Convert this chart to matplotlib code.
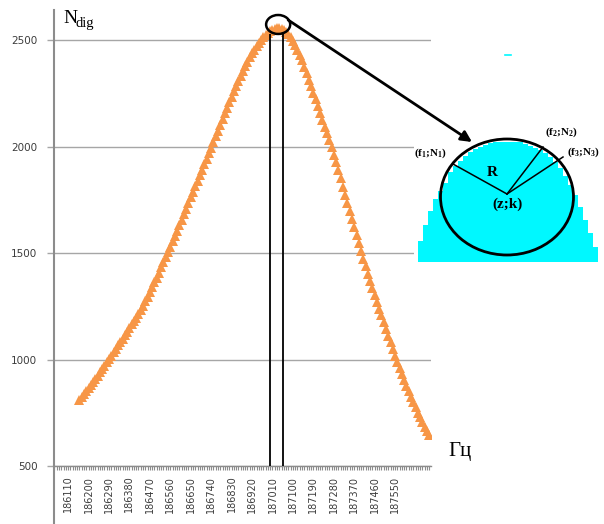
import numpy as np
import matplotlib
matplotlib.use("Agg")
import matplotlib.pyplot as plt
from matplotlib.patches import Ellipse, ConnectionPatch
from matplotlib.ticker import MultipleLocator

plt.rcParams['mathtext.fontset'] = 'custom'
plt.rcParams['mathtext.rm'] = 'Liberation Serif:bold'
plt.rcParams['mathtext.it'] = 'Liberation Serif:italic:bold'
plt.rcParams['mathtext.bf'] = 'Liberation Serif:bold'

# Frequency sweep (Hz) and digitised counts at each step
freq_start = 186160
freq_step = 10
counts = [
    812, 825, 838, 852, 866, 880, 894, 909, 924, 939,
    954, 970, 986, 1002, 1018, 1034, 1050, 1066, 1082, 1098,
    1114, 1131, 1148, 1165, 1182, 1197, 1213, 1232, 1252, 1273,
    1295, 1317, 1339, 1362, 1385, 1408, 1432, 1456, 1480, 1505,
    1530, 1555, 1580, 1605, 1631, 1657, 1683, 1709, 1735, 1761,
    1787, 1813, 1839, 1865, 1891, 1917, 1943, 1969, 1995, 2021,
    2048, 2075, 2102, 2129, 2156, 2183, 2209, 2234, 2259, 2283,
    2308, 2332, 2355, 2377, 2398, 2418, 2437, 2455, 2472, 2488,
    2502, 2514, 2525, 2534, 2542, 2548, 2552, 2555, 2555, 2552,
    2546, 2537, 2526, 2512, 2496, 2477, 2455, 2431, 2404, 2375,
    2345, 2314, 2283, 2252, 2221, 2190, 2158, 2126, 2094, 2062,
    2030, 1996, 1961, 1925, 1888, 1850, 1812, 1774, 1736, 1698,
    1660, 1622, 1584, 1546, 1508, 1472, 1437, 1403, 1370, 1337,
    1304, 1271, 1239, 1207, 1175, 1143, 1111, 1080, 1049, 1018,
    988, 959, 931, 903, 876, 850, 824, 799, 775, 751,
    728, 706, 685, 664, 644,
]
freqs = freq_start + freq_step * np.arange(len(counts))

tick_freqs = [186110, 186200, 186290, 186380, 186470, 186560, 186650,
              186740, 186830, 186920, 187010, 187100, 187190, 187280,
              187370, 187460, 187550]
tick_labels = [str(f) for f in tick_freqs]
y_ticks = [500, 1000, 1500, 2000, 2500]

# Peak window marked on the curve (Hz) and its zoom ellipse
peak_window = [187000, 187057]
peak_center = (187035, 2573)

# Staircase of the magnified peak (bar heights, inset units)
stair_heights = [21, 37, 51, 63, 71, 79, 90, 96, 101, 106, 110, 113,
                 115, 117, 119, 120, 120, 120, 120, 120, 120, 118, 116,
                 114, 112, 109, 105, 100, 94, 86, 77, 67, 55, 42, 29, 15]

ORANGE = '#F79646'
CYAN = '#00F8FF'
GRID = '#a6a6a6'
AXIS = '#8c8c8c'
LABEL = '#3c3c3c'
SERIF = 'Liberation Serif'

W, H = 604, 524
fig = plt.figure(figsize=(W / 100, H / 100), dpi=100)


def px_rect(left, top, right, bottom):
    return [left / W, 1 - bottom / H, (right - left) / W, (bottom - top) / H]


ax = fig.add_axes(px_rect(54, 10, 431, 466))
ax.set_xlim(186048, 187708)
ax.set_ylim(500, 2641)

ax.plot(freqs, counts, ls='none', marker='^', ms=7.6,
        mfc=ORANGE, mec=ORANGE, mew=0, zorder=2)

ax.set_yticks(y_ticks)
ax.yaxis.grid(True, color=GRID, lw=1.0)
ax.set_axisbelow(True)
ax.set_xticks(tick_freqs, tick_labels, rotation=90)
ax.xaxis.set_minor_locator(MultipleLocator(10))

for side in ('top', 'right'):
    ax.spines[side].set_visible(False)
ax.spines['left'].set_color(AXIS)
ax.spines['left'].set_linewidth(1.5)
ax.spines['bottom'].set_color(AXIS)
ax.spines['bottom'].set_linewidth(1.0)
ax.plot([0, 0], [0, -58 / 456], transform=ax.transAxes, color=AXIS,
        lw=1.5, clip_on=False)

ax.tick_params(axis='x', which='both', length=3, width=0.8, color=AXIS,
               labelsize=7, labelcolor=LABEL, pad=4)
ax.tick_params(axis='y', length=5, width=1.0, color=GRID,
               labelsize=7.5, labelcolor=LABEL, pad=7)

# Peak window and its magnifying ellipse
ax.vlines(peak_window, 500, 2528, color='black', lw=1.3, zorder=3)
ax.add_patch(Ellipse(peak_center, 106, 89, fill=False, ec='black',
                     lw=1.8, zorder=4))

# Magnified view of the peak
ax_in = fig.add_axes(px_rect(414, 45, 604, 263))
ax_in.set_xlim(0, 190)
ax_in.set_ylim(0, 218)
ax_in.set_xticks([])
ax_in.set_yticks([])
for s in ax_in.spines.values():
    s.set_visible(False)
ax_in.set_facecolor('white')

ax_in.bar(4 + 5 * np.arange(len(stair_heights)), stair_heights, width=5,
          bottom=1, align='edge', color=CYAN, lw=0)
ax_in.plot([91, 97], [208, 208], color=CYAN, lw=1.2)
ax_in.add_patch(Ellipse((93, 66), 133, 116, fill=False, ec='black', lw=2))

center = (93, 69)
for end in [(39, 99), (129, 116), (149, 106)]:
    ax_in.plot([center[0], end[0]], [center[1], end[1]], color='black', lw=1.1)

txt = dict(family=SERIF, weight='bold', ha='center', va='center',
           clip_on=False)
ax_in.text(78, 90, 'R', fontsize=11, **txt)
ax_in.text(94, 59, '(z;k)', fontsize=11, **txt)
ax_in.text(16, 110, r'(f$_1$;N$_1$)', fontsize=8, **txt)
ax_in.text(147, 131, r'(f$_2$;N$_2$)', fontsize=8, **txt)
ax_in.text(169, 111, r'(f$_3$;N$_3$)', fontsize=8, **txt)

arrow = ConnectionPatch(xyA=(187079, 2594), coordsA=ax.transData,
                        xyB=(58, 121), coordsB=ax_in.transData,
                        arrowstyle='-|>', mutation_scale=16, lw=2,
                        color='black', zorder=10)
fig.add_artist(arrow)

# Axis captions
fig.text(63 / W, 1 - 23 / H, 'N', fontsize=14, family=SERIF, va='baseline')
fig.text(76 / W, 1 - 27 / H, 'dig', fontsize=10.5, family=SERIF, va='baseline')
fig.text(448 / W, 1 - 456 / H, 'Гц', fontsize=15, family=SERIF, va='baseline')

fig.savefig('out.png', dpi=100)
